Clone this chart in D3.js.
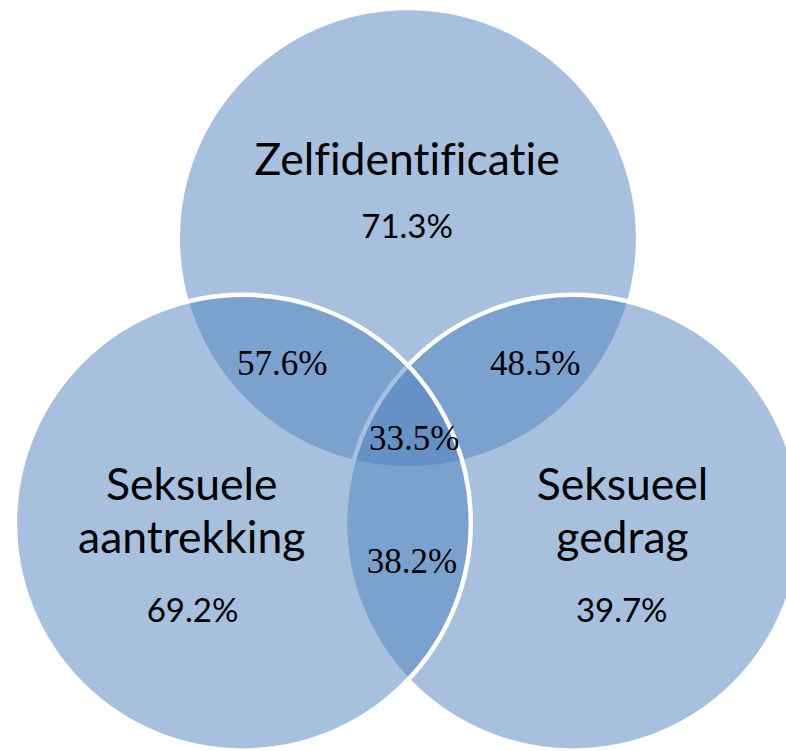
<!DOCTYPE html>
<html>
<head>
<meta charset="utf-8">
<script src="https://cdn.jsdelivr.net/npm/d3@7"></script>
<style>
  body { margin: 0; background: #fff; }
  svg { display: block; }
  text { font-variant-ligatures: none; font-feature-settings: "liga" 0; }
</style>
</head>
<body>
<script>
// set names (each name split into lines) and their own share
let setNames = [
    ['Zelfidentificatie'],
    ['Seksuele', 'aantrekking'],
    ['Seksueel', 'gedrag']
]
let setValues = [71.3, 69.2, 39.7]

// pairwise overlaps: top+left, top+right, left+right
let pairLabels = ['57.6%', '48.5%', '38.2%']
let pairValues = [57.6, 48.5, 38.2]

// all three
let tripleValue = 33.5

const SVG_WIDTH = 786
const SVG_HEIGHT = 751
const FILL = '#4F81BD'

// layout in a 0..100 box, mapped to pixels by the scales
let x = d3.scaleLinear().domain([0, 100]).range([0, 786])
let y = d3.scaleLinear().domain([0, 100]).range([0, 786])

let circles = [
    {cx: 51.9, cy: 30.3, stroke: false},   // top
    {cx: 30.9, cy: 66.5, stroke: true},    // left
    {cx: 72.9, cy: 66.5, stroke: true}     // right
]
let R = 29.0

let fmt = (v) => v.toFixed(1) + '%'

let svg = d3.select('body').append('svg')
    .attr('width', SVG_WIDTH)
    .attr('height', SVG_HEIGHT)

// drawing order: top, right, left (left on top with its white outline)
let order = [0, 2, 1]
svg.selectAll('.set')
    .data(order.map(i => circles[i]))
    .join('circle')
    .classed('set', true)
    .attr('cx', d => x(d.cx))
    .attr('cy', d => y(d.cy))
    .attr('r', x(R))
    .style('fill', FILL)
    .style('fill-opacity', 0.5)
    .style('stroke', d => d.stroke ? '#fff' : 'none')
    .style('stroke-width', 4.5)

// set titles
let titleFont = 'Lato, "Open Sans", sans-serif'
let titlePos = [
    {x: 51.8, y: 22.3},
    {x: 24.4, y: 63.6},
    {x: 79.2, y: 63.6}
]
setNames.forEach((lines, i) => {
    svg.append('g')
        .selectAll('text')
        .data(lines)
        .join('text')
        .attr('x', x(titlePos[i].x))
        .attr('y', (d, j) => y(titlePos[i].y) + j * 53)
        .attr('text-anchor', 'middle')
        .style('font-family', titleFont)
        .style('font-size', '44.5px')
        .style('fill', '#000')
        .text(d => d)
})

let valuePos = [
    {x: 51.8, y: 30.3},
    {x: 24.5, y: 79.1},
    {x: 79.1, y: 79.1}
]
svg.selectAll('.set-value')
    .data(setValues)
    .join('text')
    .classed('set-value', true)
    .attr('x', (d, i) => x(valuePos[i].x))
    .attr('y', (d, i) => y(valuePos[i].y))
    .attr('text-anchor', 'middle')
    .style('font-family', titleFont)
    .style('font-size', '33px')
    .style('fill', '#000')
    .text(d => fmt(d))

// overlaps in serif
let pairPos = [
    {x: 35.9, y: 47.7},
    {x: 68.1, y: 47.7},
    {x: 52.4, y: 72.9}
]
let serif = '"Liberation Serif", "Times New Roman", serif'
svg.selectAll('.pair-value')
    .data(pairValues)
    .join('text')
    .classed('pair-value', true)
    .attr('x', (d, i) => x(pairPos[i].x))
    .attr('y', (d, i) => y(pairPos[i].y))
    .attr('text-anchor', 'middle')
    .style('font-family', serif)
    .style('font-size', '35px')
    .style('fill', '#000')
    .text((d, i) => pairLabels[i])

svg.append('text')
    .attr('x', x(52.7))
    .attr('y', y(57.25))
    .attr('text-anchor', 'middle')
    .style('font-family', serif)
    .style('font-size', '35px')
    .style('fill', '#000')
    .text(fmt(tripleValue))
</script>
</body>
</html>
